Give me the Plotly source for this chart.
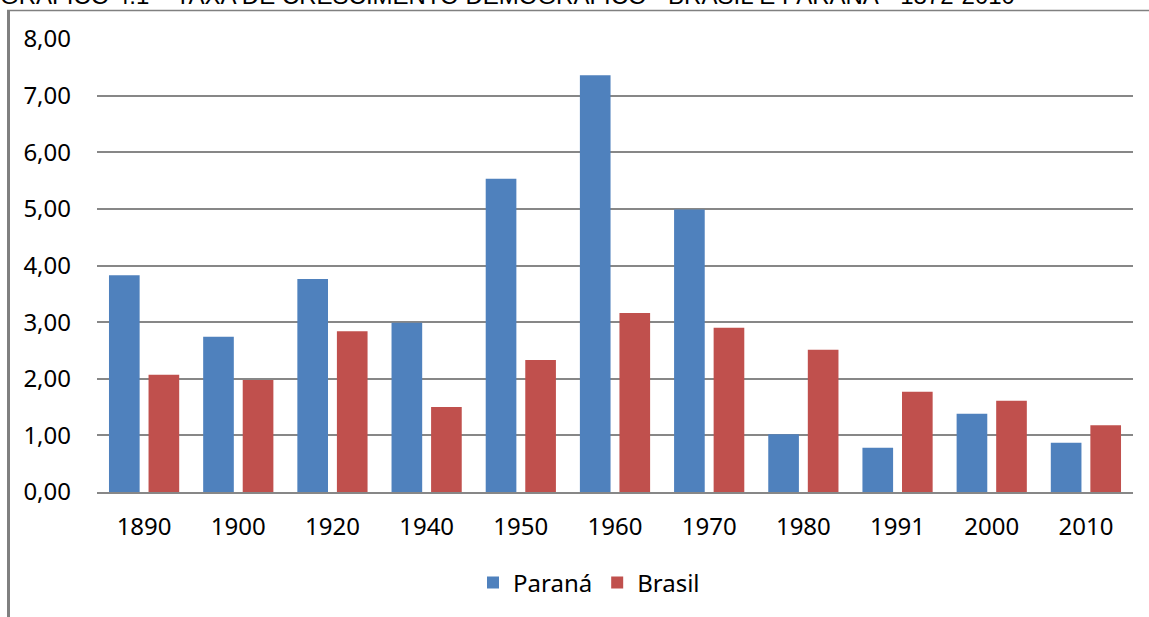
import plotly.graph_objects as go

anos = ["1890", "1900", "1920", "1940", "1950", "1960", "1970", "1980", "1991", "2000", "2010"]
parana = [3.83, 2.74, 3.76, 2.99, 5.53, 7.36, 4.99, 1.02, 0.78, 1.38, 0.87]
brasil = [2.07, 1.98, 2.84, 1.50, 2.33, 3.16, 2.90, 2.51, 1.77, 1.61, 1.18]
y_ticks = [0, 1, 2, 3, 4, 5, 6, 7, 8]
y_labels = ["0,00", "1,00", "2,00", "3,00", "4,00", "5,00", "6,00", "7,00", "8,00"]

titulo = "GRÁFICO 4.1 – TAXA DE CRESCIMENTO DEMOGRÁFICO - BRASIL E PARANÁ - 1872-2010"

W, H = 1149, 617
L, R, T, B = 97, 16, 39, 125
pw, ph = W - L - R, H - T - B


def px_x(x):
    return (x - L) / pw


def px_y(y):
    return (H - B - y) / ph


fig = go.Figure()
fig.add_trace(go.Bar(x=anos, y=parana, name="Paraná", marker=dict(color="#4F81BD", line_width=0)))
fig.add_trace(go.Bar(x=anos, y=brasil, name="Brasil", marker=dict(color="#C0504D", line_width=0)))

grid = "#878787"
fig.update_layout(
    width=W, height=H,
    margin=dict(l=L, r=R, t=T, b=B),
    plot_bgcolor="white", paper_bgcolor="white",
    barmode="group", bargap=0.16, bargroupgap=0.225,
    font=dict(family="Noto Sans", size=24, color="black"),
    legend=dict(
        orientation="h", x=px_x(589), y=px_y(583), xanchor="center", yanchor="middle",
        font=dict(size=24), itemwidth=30, traceorder="normal",
    ),
    showlegend=True,
)
fig.update_xaxes(
    showgrid=False, showline=True, linecolor=grid, linewidth=1.5,
    ticks="", ticklabelstandoff=12, zeroline=False,
)
fig.update_yaxes(
    range=[0, 8], tickvals=y_ticks, ticktext=y_labels,
    showgrid=True, gridcolor=grid, gridwidth=1.5,
    zeroline=False, showline=False, ticks="", ticklabelstandoff=25,
)

# borda cortada da figura original
fig.add_shape(type="line", xref="paper", yref="paper",
              x0=px_x(8.5), x1=px_x(8.5), y0=px_y(11), y1=px_y(H + 5),
              line=dict(color="#808080", width=3))
fig.add_shape(type="line", xref="paper", yref="paper",
              x0=px_x(7), x1=px_x(W + 5), y0=px_y(10.5), y1=px_y(10.5),
              line=dict(color="#808080", width=1.5))

# título cortado no topo
fig.add_annotation(
    text=titulo, xref="paper", yref="paper",
    x=px_x(1017), y=px_y(-4), xanchor="right", yanchor="middle",
    showarrow=False, font=dict(family="Liberation Sans", size=24, color="black"),
)

fig.write_html("out.html", config={"displayModeBar": False},
               post_script="document.body.style.margin='0';")
